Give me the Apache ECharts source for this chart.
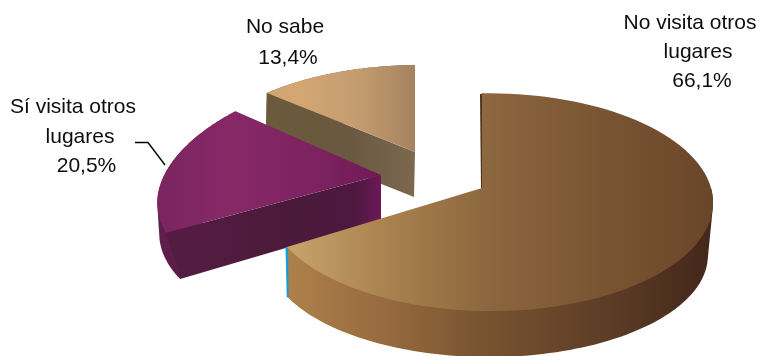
<!DOCTYPE html>
<html>
<head>
<meta charset="utf-8">
<style>html,body{margin:0;padding:0;background:#fff}#chart{width:761px;height:356px}</style>
<script src="https://cdn.jsdelivr.net/npm/echarts@6/dist/echarts.min.js"></script>
</head>
<body>
<div id="chart"></div>
<script>
// Survey answers, in clockwise order from twelve o'clock
const answers = ['No visita otros lugares', 'Sí visita otros lugares', 'No sabe'];
const shares = [66.1, 20.5, 13.4];

// Perspective projection of the unit disc onto the page
const LENS = { a: 221, b: 107, p: 0.13, py: 0.13, q: -0.035 };
const LENS_LEFT = { a: 257, b: 118, p: 0.27, py: 0.14, q: -0.186 };

// Per-slice placement and paint. Painted back to front: No sabe, Sí visita, No visita.
const SLICE_STYLE = [
  {
    apex: [482, 188], sx: 1, sy: 1, lens: LENS,
    base: { dx: -2, h: 54, sx: 0.986, sy: 0.935, lens: LENS },
    top: ['#c8a46c', 287, '#ab8450', 380, '#8c663e', 490, '#7a5533', 600, '#6a4629', 712],
    wall: ['#ad8049', 288, '#96693f', 390, '#76522f', 490, '#5c3c26', 610, '#44281a', 707],
    startEdge: '#4a3520', endEdge: '#1a9ad6', cut: null
  },
  {
    apex: [381, 175], sx: 1, sy: 1, lens: LENS_LEFT,
    base: { dx: 0, h: 45, sx: 1.03, sy: 1, lens: LENS },
    top: ['#7a2560', 158, '#872867', 230, '#7c2260', 320, '#6e1a56', 381],
    wall: ['#5f1f4d', 158, '#5a1c48', 190],
    cut: { stops: ['#551c42', 165, '#4a1a3a', 300, '#4e1840', 355, '#6c1858', 381] }
  },
  {
    apex: [415, 152], sx: 1, sy: 0.92, lens: LENS,
    base: { dx: -1, h: 45, sx: 1, sy: 0.92, lens: LENS },
    top: ['#cfa472', 267, '#d4a672', 300, '#c29c70', 360, '#a5825e', 416],
    wall: ['#6f5a3e', 267, '#6f5a3e', 416],
    cut: { stops: ['#6c5a3c', 267, '#6a5840', 350, '#7d6850', 416] }
  }
];

// Label lines with their centre on the page; the last line of each carries the share
const LABEL_LINES = [
  [[690, 23.5], [698, 52], [702, 81]],
  [[73, 107], [80, 137], [86.5, 166]],
  [[285, 27], [288, 58]]
];
const LEADER = [[135, 142.5], [148, 142.5], [165, 165]];
const LABEL_FONT = "21px 'Liberation Sans', Arial, sans-serif";

const total = shares.reduce((s, v) => s + v, 0);
const startTurn = [];
shares.reduce((acc, v, i) => { startTurn[i] = acc; return acc + v; }, 0);

function project(theta, origin, sx, sy, lens) {
  const x = Math.sin(theta), y = Math.cos(theta);
  const wx = 1 + lens.p * y + lens.q * x;
  const wy = 1 + lens.py * y + lens.q * x;
  return [origin[0] + sx * lens.a * x / wx, origin[1] - sy * lens.b * y / wy];
}

function arc(from, to, origin, sx, sy, lens) {
  const pts = [], n = 90;
  for (let i = 0; i <= n; i++) pts.push(project(from + (to - from) * i / n, origin, sx, sy, lens));
  return pts;
}

// Outline around the swept wall, so the side of the pie runs tangent to both rims
function hull(points) {
  const pts = points.slice().sort((p, q) => p[0] - q[0] || p[1] - q[1]);
  const cross = (o, a, b) => (a[0] - o[0]) * (b[1] - o[1]) - (a[1] - o[1]) * (b[0] - o[0]);
  const half = list => {
    const out = [];
    list.forEach(p => {
      while (out.length > 1 && cross(out[out.length - 2], out[out.length - 1], p) <= 0) out.pop();
      out.push(p);
    });
    out.pop();
    return out;
  };
  return half(pts).concat(half(pts.slice().reverse()));
}

// Horizontal paint across the page: [colour, x, colour, x, ...]
function hGradient(stops) {
  const xs = stops.filter((_, i) => i % 2 === 1);
  const x0 = xs[0], x1 = xs[xs.length - 1];
  const colorStops = [];
  for (let i = 0; i < stops.length; i += 2) {
    colorStops.push({ offset: (stops[i + 1] - x0) / (x1 - x0), color: stops[i] });
  }
  return { type: 'linear', x: x0, y: 0, x2: x1, y2: 0, global: true, colorStops };
}

function poly(points, fill) {
  return { type: 'polygon', shape: { points }, style: { fill, stroke: null } };
}

function renderSlice(params, api) {
  const i = api.value(0);
  const st = SLICE_STYLE[i];
  const from = startTurn[i] / total * Math.PI * 2;
  const to = (startTurn[i] + shares[i]) / total * Math.PI * 2;
  const baseApex = [st.apex[0] + st.base.dx, st.apex[1] + st.base.h];

  const topArc = arc(from, to, st.apex, st.sx, st.sy, st.lens);
  const baseArc = arc(from, to, baseApex, st.base.sx, st.base.sy, st.base.lens);
  const children = [];

  // Outer wall between the rims; only the part from three o'clock onwards can show
  const wallFrom = Math.max(from, Math.PI / 2);
  const wallPts = arc(wallFrom, to, st.apex, st.sx, st.sy, st.lens)
    .concat(arc(wallFrom, to, baseApex, st.base.sx, st.base.sy, st.base.lens));
  children.push(poly(hull(wallPts), hGradient(st.wall)));

  // Straight cut face, when it looks towards the viewer
  if (st.cut) {
    children.push(poly([st.apex, topArc[0], baseArc[0], baseApex], hGradient(st.cut.stops)));
  }

  // Sliver edges of the large slice
  if (st.endEdge) {
    const a = topArc[topArc.length - 1], b = baseArc[baseArc.length - 1];
    children.push(poly([[a[0] - 1.5, a[1]], [a[0] + 1, a[1]], [b[0] + 1, b[1]], [b[0] - 1, b[1]]], st.endEdge));
  }
  if (st.startEdge) {
    const a = topArc[0];
    children.push(poly([[a[0] - 2, a[1] + 1], [a[0] + 1, a[1]], [st.apex[0] + 1, st.apex[1]], [st.apex[0] - 1, st.apex[1]]], st.startEdge));
  }

  // Top face
  children.push(poly([st.apex].concat(topArc), hGradient(st.top)));

  // Label
  const words = answers[i];
  const share = shares[i].toFixed(1).replace('.', ',') + '%';
  const lines = words === 'No sabe'
    ? [words, share]
    : [words.replace(' lugares', ''), 'lugares', share];
  lines.forEach((text, k) => {
    children.push({
      type: 'text',
      style: {
        text, x: LABEL_LINES[i][k][0], y: LABEL_LINES[i][k][1],
        font: LABEL_FONT, fill: '#0d0d0d', align: 'center', verticalAlign: 'middle'
      }
    });
  });

  if (answers[i].startsWith('Sí')) {
    children.push({
      type: 'polyline',
      shape: { points: LEADER },
      style: { stroke: '#000', lineWidth: 1.4, fill: null }
    });
  }
  return { type: 'group', children };
}

const chart = echarts.init(document.getElementById('chart'), null, { renderer: 'canvas' });
chart.setOption({
  animation: false,
  backgroundColor: '#ffffff',
  series: [{
    type: 'custom',
    coordinateSystem: 'none',
    renderItem: renderSlice,
    silent: true,
    // index of each slice, furthest one first
    data: [[2], [1], [0]]
  }]
});
</script>
</body>
</html>
